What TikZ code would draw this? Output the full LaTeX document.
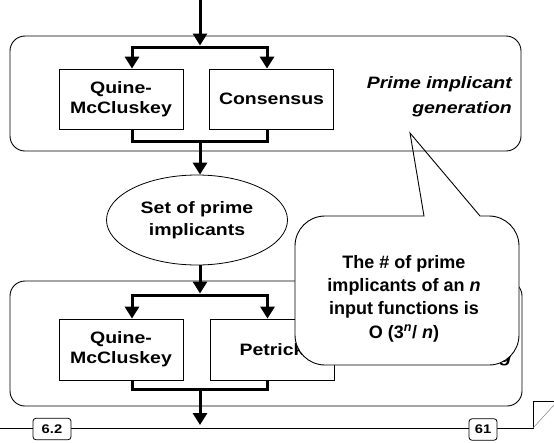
\documentclass[tikz,border=0pt]{standalone}
\usepackage{fontspec}
\setmainfont{Liberation Sans}
\newfontfamily\wideface{Liberation Sans}[FakeStretch=1.18]
\usetikzlibrary{arrows.meta,shapes.geometric,calc}

\begin{document}
\begin{tikzpicture}[x=1pt,y=1pt,
  flowline/.style={line width=3pt, line join=miter},
  flow/.style={flowline, -{Triangle[length=12pt,width=14pt]}},
  stage/.style={draw, line width=0.9pt, rounded corners=15pt, inner sep=0pt},
  method/.style={draw, line width=0.8pt, fill=white, minimum width=124pt,
    inner sep=0pt, align=center,
    font=\wideface\fontsize{16.5}{20}\selectfont\bfseries},
  stagelabel/.style={inner sep=0pt, align=right,
    font=\wideface\fontsize{16.5}{25}\selectfont\bfseries\itshape},
  result/.style={ellipse, draw, line width=0.8pt, fill=white,
    minimum width=181pt, minimum height=90pt, inner sep=0pt, align=center,
    font=\wideface\fontsize{16.5}{22}\selectfont\bfseries},
  note/.style={inner sep=0pt, align=center,
    font=\fontsize{18}{23.3}\selectfont\bfseries},
  pagetag/.style={draw, line width=0.8pt, fill=white, rounded corners=3pt,
    inner sep=0pt, minimum height=21.5pt,
    font=\wideface\fontsize{12.5}{14}\selectfont\bfseries}
]
\useasboundingbox (0,0) rectangle (554,-442);

% ---- second stage: selecting a cover ----
\node[stage, minimum width=512pt, minimum height=125pt] (cover) at (266,-343.5) {};
\node[method, minimum height=61pt] (qm2) at (121,-349.5) {Quine-\\McCluskey};
\node[method, minimum height=61pt] (pet) at (272,-349.5) {Petrick};
\node[stagelabel, anchor=base east] (coverlabel) at (512,-362) {covering};

% ---- intermediate result ----
\node[result] (set) at (197,-220) {Set of prime\\implicants};

% ---- first stage: generating prime implicants ----
\node[method, minimum height=60pt] (qm1) at (121,-99) {Quine-\\McCluskey};
\node[method, minimum height=60pt] (cons) at (271.5,-99) {Consensus};
\node[stagelabel, anchor=north east] (genlabel) at (512,-76) {Prime implicant\\generation};

% flow through the first stage
\coordinate (in) at (200,0);
\coordinate (s1) at (200,-47);
\coordinate (m1) at (200,-141);
\draw[flow] (in) -- ([yshift=1.5pt]s1);
\draw[flow] (s1) -| ([xshift=11pt]qm1.north);
\draw[flow] (s1) -| ([xshift=-4.5pt]cons.north);
\draw[flowline] ([xshift=11pt]qm1.south) |- (m1) -| ([xshift=-4.5pt]cons.south);
\draw[flow] (m1) -- (m1 |- set.north);

% flow through the second stage
\coordinate (s2) at (200,-295);
\coordinate (m2) at (200,-389);
\coordinate (out) at (200,-425);
\draw[flow] (s2 |- set.south) -- ([yshift=1.5pt]s2);
\draw[flow] (s2) -| ([xshift=11pt]qm2.north);
\draw[flow] (s2) -| ([xshift=-4.5pt]pet.north);
\draw[flowline] ([xshift=11pt]qm2.south) |- (m2) -| ([xshift=-4.5pt]pet.south);
\draw[flow] (m2) -- (out);

% ---- callout with the complexity remark ----
\draw[line width=0.9pt, fill=white]
  (410,-133) coordinate (tip) -- (424,-216) -- (325,-216)
  arc[start angle=90, end angle=180, radius=30] -- (295,-335)
  arc[start angle=180, end angle=270, radius=30] -- (489,-365)
  arc[start angle=270, end angle=360, radius=30] -- (519,-246)
  arc[start angle=0, end angle=90, radius=30] -- (480,-216) -- cycle;
\node[note, anchor=north] (remark) at (404,-255)
  {The \# of prime\\implicants of an \textit{n}\\input functions is\\O (3\textsuperscript{\itshape n}/ \textit{n})};

% frame of the first stage, drawn over the callout tail
\node[stage, minimum width=511pt, minimum height=115pt] (gen) at (265.5,-93.5) {};

% ---- page footer ----
\coordinate (fl) at (0,-428);
\coordinate (curl) at (533,-428);
\draw[line width=0.8pt] (fl) -- (curl) -- (533,-401) -- (554,-401);
\draw[gray, line width=0.5pt] (curl) -- (554,-405);
\node[pagetag, minimum width=38pt] (section) at (52,-429) {6.2};
\node[pagetag, minimum width=28pt] (page) at (483,-429.5) {61};
\end{tikzpicture}
\end{document}
